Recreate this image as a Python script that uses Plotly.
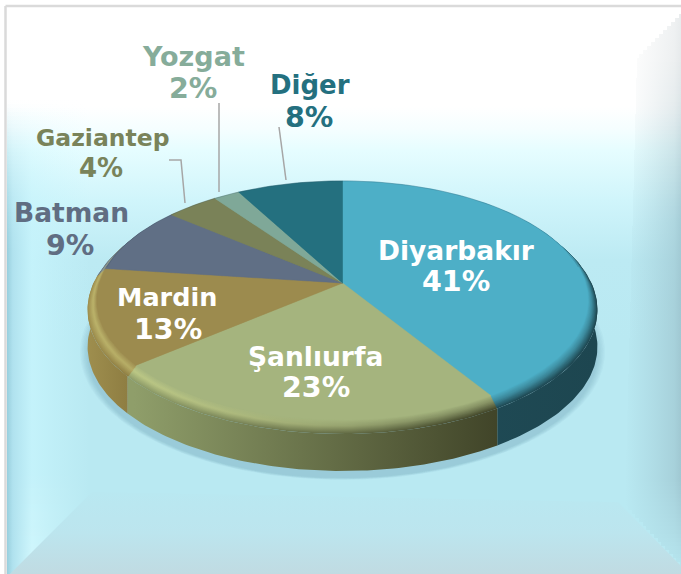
import numpy as np
import plotly.graph_objects as go

# ---------- data ----------
categories = ["Diyarbakır", "Şanlıurfa", "Mardin", "Batman", "Gaziantep", "Yozgat", "Diğer"]
values = [41, 23, 13, 9, 4, 2, 8]

# ---------- style ----------
face_colors = ["#4DAFC7", "#A5B47E", "#9C8B4E", "#606F85", "#7A8258", "#7FA898", "#24707F"]
wall_left = ["#1F4A55", "#8F9E6A", "#9E8E4E", "#5E6D83", "#788056", "#7DA696", "#236E7D"]
wall_right = ["#1D4650", "#414529", "#8C7B40", "#5E6D83", "#788056", "#7DA696", "#236E7D"]
wall_u = [(0.75, 1.0), (0.09, 0.80), (0.0, 0.09), (0, 1), (0, 1), (0, 1), (0, 1)]
label_colors = ["white", "white", "white", "#606D82", "#79835A", "#86AC9A", "#24707F"]
name_pos = [(456, 250), (315, 356), (167, 297), (71, 212), (102, 138), (193, 56), (310, 85)]
pct_pos = [(456, 281), (316, 387), (168, 329), (70, 245), (101, 168), (193, 88), (309, 117)]
name_size = [26.5, 26.5, 25.5, 26.5, 23.5, 27, 26]
pct_size = [28.5, 28.5, 28.5, 28.5, 26, 28.5, 28.5]
FONT = "DejaVu Sans"
W, H = 681, 574

# projection of the pie plane
CX, CY = 342.5, 283.0
A, B, K = 243.0, 117.0, 0.146
RIM_S, RIM_DZ, DEPTH = 1.037, 8.0, 37.0


def project(theta, s=1.0, dz=0.0):
    X = np.sin(theta) * s
    Y = -np.cos(theta) * s
    f = 1.0 / (1.0 - K * Y)
    return CX + A * X * f, CY + B * Y * f + dz


def arc(a0, a1):
    n = max(4, int(abs(a1 - a0) / np.radians(1.0)))
    return np.linspace(a0, a1, n)


def hex2rgb(c):
    return np.array([int(c[i:i + 2], 16) for i in (1, 3, 5)], float)


def rgb(c):
    return "rgb(%d,%d,%d)" % tuple(np.clip(c, 0, 255).round())


def poly(x, y, scale=None, orient="horizontal", start=None, stop=None, color=None, line=None):
    kw = dict(x=x, y=y, mode="lines", fill="toself", hoverinfo="skip", showlegend=False,
              line=dict(width=0, color="rgba(0,0,0,0)") if line is None else line)
    if scale is not None:
        kw["fillgradient"] = dict(type=orient, colorscale=scale, start=start, stop=stop)
    else:
        kw["fillcolor"] = color
    return go.Scatter(**kw)


fig = go.Figure()

# ---------- background panel ----------
L, T = 7, 7
fig.add_trace(poly([L, W, W, L, L], [T, T, H, H, T], orient="vertical", start=T, stop=H,
                   scale=[[0, "#FFFFFF"], [0.175, "#FFFFFF"], [0.215, "#F5FEFF"], [0.252, "#E6FDFF"],
                          [0.34, "#D0F5FB"], [0.446, "#BCEAF3"], [0.587, "#B9E9F2"], [1, "#B9E9F2"]]))

STRIP = 4
# left bevel, built from thin strips so its strength can grow downward
for y0 in range(100, H, STRIP):
    y1 = y0 + STRIP
    ym = (y0 + y1) / 2
    a = float(np.clip((ym - 100) / 150, 0, 1))
    xr = 90
    ext = float(np.clip((ym - 470) / 100, 0, 1))
    hi = np.array([198, 244, 252]) * (1 - ext) + np.array([214, 250, 255]) * ext
    hi_s = "%d,%d,%d" % tuple(hi)
    fig.add_trace(poly([L, xr, xr, L, L], [y0, y0, y1, y1, y0], start=L, stop=xr, scale=[
        [0, f"rgba(150,205,220,{0.95 * a:.3f})"],
        [0.07, f"rgba(175,225,238,{0.9 * a:.3f})"],
        [0.3, f"rgba({hi_s},{0.85 * a:.3f})"],
        [0.55, f"rgba({hi_s},{0.5 * a:.3f})"],
        [1, f"rgba({hi_s},0)"]]))

# right bevel
GR0 = 625
for y0 in range(14, 566, STRIP):
    y1 = y0 + STRIP
    ym = (y0 + y1) / 2
    if ym < 58:
        xl = W - (ym - 14)
    elif ym < 505:
        xl = 637 - (ym - 58) / 447 * 12
    else:
        xl = 625 + (ym - 505) * 56 / 60
    xl = round(xl)
    pts = np.array([20, 100, 200, 300, 480, 530, 565], float)
    amp = float(np.interp(ym, pts, [0.45, 0.55, 0.85, 1.0, 1.0, 0.55, 0.15]))
    g = float(np.clip((ym - 60) / 160, 0, 1))
    col = np.array([205, 212, 215]) * (1 - g) + np.array([160, 200, 210]) * g
    cs = "%d,%d,%d" % tuple(col)
    fig.add_trace(poly([xl, W, W, xl, xl], [y0, y0, y1, y1, y0], start=GR0, stop=W, scale=[
        [0, f"rgba({cs},0)"], [0.5, f"rgba({cs},{0.38 * amp:.3f})"],
        [0.88, f"rgba({cs},{0.72 * amp:.3f})"], [1, f"rgba({cs},{amp:.3f})"]]))

# bottom bevel
fig.add_trace(poly([10, 92, 618, W, W, 10], [H, 492, 502, 566, H, H], orient="vertical", start=492, stop=H,
                   scale=[[0, "#B9E8F1"], [0.5, "#BCE5EE"], [1, "#C0DBE2"]]))
# frame lines
fig.add_trace(go.Scatter(x=[5.5, 5.5, None, 5.5, W], y=[H, 6, None, 6, 6], mode="lines", hoverinfo="skip",
                         showlegend=False, line=dict(color="#DADADA", width=2.5)))

# ---------- pie ----------
total = float(sum(values))
edges = np.radians(np.concatenate([[0], np.cumsum(values)]) / total * 360.0)

# soft shadow below the pie
full = np.radians(np.linspace(0, 360, 361))
for i in range(7):
    sx, sy = project(full, RIM_S + 0.005 * (6 - i), RIM_DZ + DEPTH + 4 + i * 0.5)
    fig.add_trace(poly(sx, sy, color="rgba(70,110,130,0.035)"))

# side walls
VIS0, VIS1 = np.radians(85), np.radians(275)
U0, U1 = 88.0, 597.0
for i in range(3):
    a0, a1 = max(edges[i], VIS0), min(edges[i + 1], VIS1)
    th = arc(a0, a1)
    x, y = project(th, RIM_S, RIM_DZ)
    x2, y2 = project(th[::-1], RIM_S, RIM_DZ + DEPTH)
    st = U0 + (U1 - U0) * wall_u[i][0]
    en = U0 + (U1 - U0) * wall_u[i][1]
    scale = [[0, wall_left[i]], [1, wall_right[i]]]
    fig.add_trace(poly(np.r_[x, x2, x[0]], np.r_[y, y2, y[0]], scale=scale, start=st, stop=en))


def wall_at(i, u):
    u0, u1 = wall_u[i]
    w = np.clip((u - u0) / max(u1 - u0, 1e-6), 0, 1)
    return hex2rgb(wall_left[i]) * (1 - w) + hex2rgb(wall_right[i]) * w


def bevel_color(i, t, u):
    face = hex2rgb(face_colors[i])
    lit = np.clip(1 - u / 0.62, 0, 1)
    peak = face * 0.65 + wall_at(i, u) * 0.35
    peak = peak * (1 - lit) + (face * 0.6 + np.array([235, 240, 150]) * 0.4) * lit
    T_P = 0.45
    if t < T_P:
        return face * (1 - t / T_P) + peak * t / T_P
    w = (t - T_P) / (1 - T_P)
    return peak * (1 - w) + wall_at(i, u) * w


# bevel layers, outermost first, then the flat top face
N_LAYERS = 14
us = np.linspace(0, 1, 13)
for k in range(N_LAYERS, -1, -1):
    t = k / N_LAYERS
    s = 1 + (RIM_S - 1) * t
    dz = RIM_DZ * t
    for i in range(len(values)):
        th = arc(edges[i], edges[i + 1])
        x, y = project(th, s, dz)
        cx, cy = CX, CY + dz
        px = np.r_[cx, x, cx]
        py = np.r_[cy, y, cy]
        if k == 0:
            fig.add_trace(poly(px, py, color=face_colors[i],
                               line=dict(width=0.5, color=face_colors[i])))
        else:
            scale = [[float(u), rgb(bevel_color(i, t, u))] for u in us]
            fig.add_trace(poly(px, py, scale=scale, start=U0, stop=U1))

# thin darker line along the back of the pie
bk = np.radians(np.linspace(-82, 82, 120))
bx, by = project(bk)
fig.add_trace(go.Scatter(x=bx, y=by, mode="lines", hoverinfo="skip", showlegend=False,
                         line=dict(color="rgba(40,70,85,0.22)", width=1)))

# ---------- leader lines ----------
leaders = [([169, 181, 185], [160, 160, 203]), ([219, 219], [103, 192]), ([279, 286], [127, 180])]
for lx, ly in leaders:
    fig.add_trace(go.Scatter(x=lx, y=ly, mode="lines", hoverinfo="skip", showlegend=False,
                             line=dict(color="#A6A6A6", width=1.5)))

# ---------- labels ----------
for i, (name, v, col) in enumerate(zip(categories, values, label_colors)):
    fig.add_annotation(x=name_pos[i][0], y=name_pos[i][1], xref="x", yref="y", showarrow=False,
                       text=f"<b>{name}</b>", font=dict(family=FONT, size=name_size[i], color=col))
    fig.add_annotation(x=pct_pos[i][0], y=pct_pos[i][1], xref="x", yref="y", showarrow=False,
                       text=f"<b>{v}%</b>", font=dict(family=FONT, size=pct_size[i], color=col))

fig.update_layout(width=W, height=H, margin=dict(l=0, r=0, t=0, b=0), showlegend=False,
                  paper_bgcolor="white", plot_bgcolor="rgba(0,0,0,0)",
                  xaxis=dict(visible=False, range=[0, W], fixedrange=True),
                  yaxis=dict(visible=False, range=[H, 0], fixedrange=True))
fig.write_html("out.html", config=dict(displayModeBar=False),
               post_script="document.body.style.margin='0';document.body.style.overflow='hidden';")
